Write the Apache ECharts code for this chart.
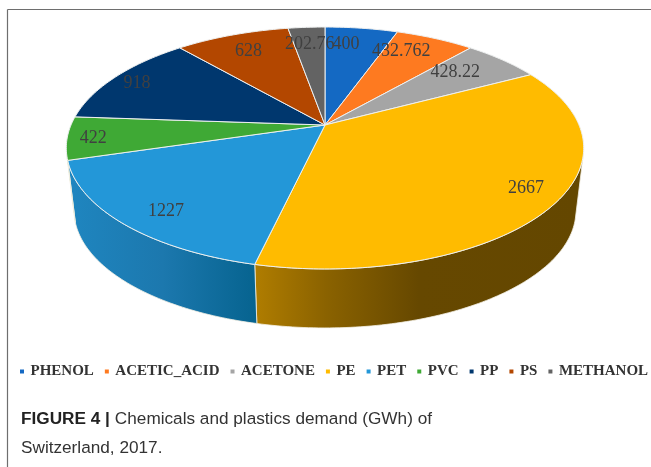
<!DOCTYPE html>
<html>
<head>
<meta charset="utf-8">
<style>html,body{margin:0;padding:0;background:#fff}#chart{width:651px;height:467px}</style>
<script src="https://cdn.jsdelivr.net/npm/echarts@6/dist/echarts.min.js"></script>
</head>
<body>
<div id="chart"></div>
<script>
// Demand per product, GWh
const categories = ['PHENOL', 'ACETIC_ACID', 'ACETONE', 'PE', 'PET', 'PVC', 'PP', 'PS', 'METHANOL'];
const demand = [400, 432.762, 428.22, 2667, 1227, 422, 918, 628, 202.76];
const palette = ['#1469c3', '#fe7a20', '#a5a5a5', '#ffbb00', '#2397d8', '#3fa935', '#00376e', '#b34700', '#636363'];

// Perspective disc: screen position of a point on a unit circle
const disc = { cx: 325, cy: 125, a: 254, b: 116.6, p: 0.19 };
const lowerRim = { cy: 188.3, scale: 0.97 };
const wallFrom = 105, wallTo = 255;

// Value label placement: fraction of the radius, and degrees off the slice's middle
const labelReach = [0.8, 0.8, 0.75, 0.87, 0.85, 0.9, 0.88, 0.8, 0.8];
const labelTurn = [-3, -5, -3, -3, -3, -1, -1, 0, 0];

const wallShades = {
  PE: [[0, '#b07d00'], [0.22, '#8a6200'], [0.5, '#664800'], [1, '#644700']],
  PET: [[0, '#1f86c0'], [0.5, '#1c78ae'], [1, '#06638f']]
};

const total = demand.reduce((s, v) => s + v, 0);
const starts = demand.map((_, i) => demand.slice(0, i).reduce((s, v) => s + v, 0));
const toDeg = v => v / total * 360;

function project(deg, r) {
  const t = deg * Math.PI / 180;
  const u = r * Math.sin(t), v = r * Math.cos(t);
  const d = 1 + disc.p * v;
  return [disc.cx + disc.a * u / d, disc.cy - disc.b * v / d];
}
function projectLower(deg) {
  const t = deg * Math.PI / 180;
  const u = Math.sin(t), v = Math.cos(t);
  const d = 1 + disc.p * v;
  return [disc.cx + lowerRim.scale * disc.a * u / d, lowerRim.cy - lowerRim.scale * disc.b * v / d];
}
function sweep(from, to, fn) {
  const pts = [];
  const n = Math.max(2, Math.ceil(Math.abs(to - from)));
  for (let k = 0; k <= n; k++) pts.push(fn(from + (to - from) * k / n));
  return pts;
}

function renderSlice(params, api) {
  const i = params.seriesIndex;
  const from = toDeg(api.value(1));
  const to = toDeg(api.value(1) + api.value(0));
  const mid = (from + to) / 2;
  const children = [];

  // Side wall, only on the part of the rim that faces the viewer
  const wa = Math.max(from, wallFrom), wb = Math.min(to, wallTo);
  if (wb > wa) {
    const rim = sweep(wa, wb, d => project(d, 1));
    const low = sweep(wb, wa, projectLower);
    const stops = wallShades[categories[i]] || [[0, palette[i]], [1, palette[i]]];
    const fill = new echarts.graphic.LinearGradient(0, 0, 1, 0,
      stops.map(s => ({ offset: s[0], color: s[1] })));
    children.push({
      type: 'polygon',
      shape: { points: rim.concat(low) },
      style: { fill: fill, stroke: '#f4f0e4', lineWidth: 0.8 }
    });
  }

  // Top face
  const top = [[disc.cx, disc.cy]].concat(sweep(from, to, d => project(d, 1)));
  children.push({
    type: 'polygon',
    shape: { points: top },
    style: { fill: palette[i], stroke: '#eef0f0', lineWidth: 1 }
  });

  const at = project(mid + labelTurn[i], labelReach[i]);
  children.push({
    type: 'text',
    z2: 20,
    style: {
      x: at[0], y: at[1],
      text: String(api.value(0)),
      fill: '#404040',
      font: '18px "Liberation Serif"',
      align: 'center', verticalAlign: 'middle'
    }
  });
  return { type: 'group', children: children };
}

const series = categories.map((name, i) => ({
  type: 'custom',
  name: name,
  coordinateSystem: 'none',
  renderItem: renderSlice,
  silent: true,
  animation: false,
  itemStyle: { color: palette[i] },
  data: [[demand[i], starts[i]]]
}));

const chart = echarts.init(document.getElementById('chart'), null, { renderer: 'canvas' });
chart.setOption({
  animation: false,
  backgroundColor: '#fff',
  color: palette,
  legend: {
    data: categories,
    left: 15,
    top: 359,
    width: 700,
    icon: 'rect',
    itemWidth: 4,
    itemHeight: 4,
    itemGap: 11,
    selectedMode: false,
    textStyle: {
      fontFamily: '"Liberation Serif"',
      fontWeight: 'bold',
      fontSize: 15,
      color: '#333',
      padding: [0, 0, 0, 1.5]
    }
  },
  title: {
    text: '{b|FIGURE 4 |} {n|Chemicals and plastics demand (GWh) of}\n{n|Switzerland, 2017.}',
    left: 16,
    top: 400,
    textStyle: {
      fontWeight: 'normal',
      rich: {
        b: { fontFamily: '"Liberation Sans"', fontWeight: 'bold', fontSize: 17.2, color: '#222', lineHeight: 29 },
        n: { fontFamily: '"Liberation Sans"', fontWeight: 'normal', fontSize: 17.2, color: '#333', lineHeight: 29 }
      }
    }
  },
  graphic: [
    { type: 'line', shape: { x1: 7.5, y1: 9.5, x2: 651, y2: 9.5 }, style: { stroke: '#6e6e6e', lineWidth: 1.2 }, silent: true },
    { type: 'line', shape: { x1: 7.5, y1: 9.5, x2: 7.5, y2: 467 }, style: { stroke: '#6e6e6e', lineWidth: 1.2 }, silent: true }
  ],
  series: series
});
</script>
</body>
</html>
